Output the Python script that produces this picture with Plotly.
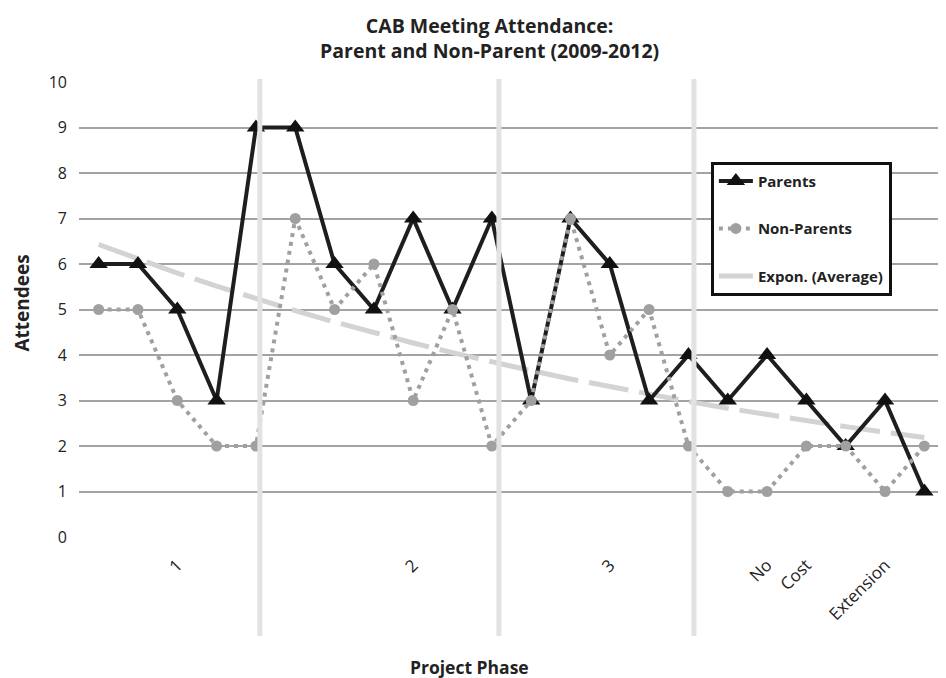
import numpy as np
import plotly.graph_objects as go

# ---- data ----
meeting_index = list(range(22))
parents = [6, 6, 5, 3, 9, 9, 6, 5, 7, 5, 7, 3, 7, 6, 3, 4, 3, 4, 3, 2, 3, 1]
non_parents = [5, 5, 3, 2, 2, 7, 5, 6, 3, 5, 2, 3, 7, 4, 5, 2, 1, 1, 2, 2, 1, 2]
phase_labels = ["", "", "1", "", "", "", "", "", "2", "", "", "", "", "3", "", "",
                "", "No", "Cost", "", "Extension", ""]
phase_boundaries = [4.1, 10.18, 15.14]
y_ticks = list(range(0, 11))

# Excel-style exponential trendline of the average series
average = [(p + n) / 2 for p, n in zip(parents, non_parents)]
b, ln_a = np.polyfit(meeting_index, np.log(average), 1)
trend = list(np.exp(ln_a + b * np.array(meeting_index)))

# ---- layout helpers (page pixel -> paper); page body has an 8px margin ----
W, H = 946, 678
OFF = 8
PL, PR, PT, PB = 79.4, 943.6, 82, 537          # plot area in page pixels
L = PL - OFF
R = W - (PR - OFF)
T = PT - OFF
B = H - (PB - OFF)
pw, ph = PR - PL, PB - PT
def px(x): return (x - PL) / pw
def py(y): return (PB - y) / ph

FONT = "Open Sans"

fig = go.Figure()
fig.add_trace(go.Scatter(
    x=meeting_index, y=trend, mode="lines", name="Expon. (Average)",
    line=dict(color="#d3d3d3", width=5, dash="40px,11px"),
    legendgroup="c", legendrank=3, hoverinfo="skip"))
fig.add_trace(go.Scatter(
    x=meeting_index, y=parents, mode="lines+markers", name="Parents",
    line=dict(color="#1e1e1e", width=4),
    marker=dict(symbol="triangle-up", size=16, color="#111111"),
    legendgroup="a", legendrank=1))
fig.add_trace(go.Scatter(
    x=meeting_index, y=non_parents, mode="lines+markers", name="Non-Parents",
    line=dict(color="#a0a0a0", width=4, dash="4px,5px"),
    marker=dict(symbol="circle", size=11, color="#a0a0a0"),
    legendgroup="b", legendrank=2))

shapes = []
for xb in phase_boundaries:
    shapes.append(dict(type="line", xref="x", yref="paper", x0=xb, x1=xb,
                       y0=py(636), y1=py(79), line=dict(color="#e2e2e2", width=5),
                       layer="above"))

fig.update_layout(
    width=W, height=H,
    margin=dict(l=L, r=R, t=T, b=B, pad=0),
    paper_bgcolor="white", plot_bgcolor="white",
    font=dict(family=FONT, color="#222222"),
    shapes=shapes,
    showlegend=True,
    legend=dict(x=px(710.7), y=py(161.7), xanchor="left", yanchor="top",
                bgcolor="white", bordercolor="#111111", borderwidth=3,
                font=dict(family=FONT, size=15, color="#222222", weight="bold"),
                traceorder="grouped", tracegroupgap=25, itemwidth=34),
    xaxis=dict(range=[-0.5, 21.5], tickmode="array", tickvals=meeting_index,
               ticktext=phase_labels, tickangle=-45, showgrid=False,
               zeroline=False, showline=False, ticks="",
               tickfont=dict(family=FONT, size=17, color="#222222"),
               ticklabelstandoff=14),
    yaxis=dict(range=[0, 10], tickmode="array", tickvals=y_ticks,
               showgrid=True, gridcolor="#a3a3a3", gridwidth=1.5,
               zeroline=False, showline=False, ticks="",
               tickfont=dict(family=FONT, size=16, color="#222222"),
               ticklabelstandoff=11),
    annotations=[
        dict(text="<b>CAB Meeting Attendance:<br>Parent and Non-Parent (2009-2012)</b>",
             xref="paper", yref="paper", x=px(490), y=py(38.5),
             xanchor="center", yanchor="middle", showarrow=False,
             font=dict(family=FONT, size=19.5, color="#222222")),
        dict(text="<b>Project Phase</b>", xref="paper", yref="paper",
             x=px(470), y=py(667), xanchor="center", yanchor="middle",
             showarrow=False, font=dict(family=FONT, size=17.5, color="#222222")),
        dict(text="<b>Attendees</b>", xref="paper", yref="paper",
             x=px(22), y=py(303), xanchor="center", yanchor="middle",
             textangle=-90, showarrow=False,
             font=dict(family=FONT, size=19, color="#222222")),
    ],
)

fig.write_html("out.html")
